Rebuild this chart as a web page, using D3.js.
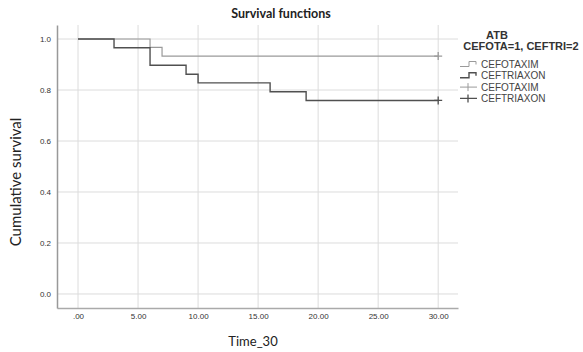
<!DOCTYPE html>
<html>
<head>
<meta charset="utf-8">
<script src="https://cdn.jsdelivr.net/npm/d3@7"></script>
<style>
  body { margin: 0; background: #fff; }
  svg { display: block; }
</style>
</head>
<body>
<svg id="chart" width="583" height="352"></svg>
<script>
// Kaplan-Meier steps
const cefotaximTimes = [0, 6, 7, 30];
const cefotaximSurv = [1.0, 0.967, 0.933, 0.933];
const ceftriaxonTimes = [0, 3, 6, 9, 10, 16, 19, 30];
const ceftriaxonSurv = [1.0, 0.966, 0.897, 0.862, 0.828, 0.793, 0.759, 0.759];
const censorTime = 30;

const xTicks = [0, 5, 10, 15, 20, 25, 30];
const yTicks = [0, 0.2, 0.4, 0.6, 0.8, 1.0];
const legendLabels = ["CEFOTAXIM", "CEFTRIAXON", "CEFOTAXIM", "CEFTRIAXON"];

const svg = d3.select("#chart");

const x = d3.scaleLinear().domain([-1.75, 31.65]).range([57, 458]);
const y = d3.scaleLinear().domain([-0.055, 1.055]).range([308, 25]);

const lightCol = "#9a9a9a";
const darkCol = "#505050";

// gridlines
svg.append("g").selectAll("line").data(xTicks).join("line")
  .attr("x1", d => x(d)).attr("x2", d => x(d))
  .attr("y1", y.range()[1]).attr("y2", y.range()[0])
  .attr("stroke", "#dcdcdc").attr("stroke-width", 1);
svg.append("g").selectAll("line").data(yTicks).join("line")
  .attr("x1", x.range()[0]).attr("x2", x.range()[1])
  .attr("y1", d => y(d)).attr("y2", d => y(d))
  .attr("stroke", "#dcdcdc").attr("stroke-width", 1);

// axes (no tick marks, just line + labels)
const xAxis = d3.axisBottom(x).tickValues(xTicks).tickSize(0).tickPadding(5)
  .tickFormat(d => d3.format(".2f")(d).replace(/^0/, ""));
const gx = svg.append("g").attr("transform", `translate(0,${y.range()[0]})`).call(xAxis);
gx.select(".domain").attr("stroke", "#aaa").attr("stroke-width", 1.5);

const yAxis = d3.axisLeft(y).tickValues(yTicks).tickSize(0).tickPadding(6)
  .tickFormat(d3.format(".1f"));
const gy = svg.append("g").attr("transform", `translate(${x.range()[0]},0)`).call(yAxis);
gy.select(".domain").attr("stroke", "#999").attr("stroke-width", 1.5);

svg.selectAll(".tick text")
  .attr("font-family", "Liberation Sans, Arial, sans-serif")
  .attr("font-size", 8).attr("fill", "#333");

// survival curves
const line = d3.line().x(d => x(d[0])).y(d => y(d[1])).curve(d3.curveStepAfter);
const series = [
  { t: cefotaximTimes, s: cefotaximSurv, col: lightCol, w: 1.2 },
  { t: ceftriaxonTimes, s: ceftriaxonSurv, col: darkCol, w: 1.4 }
];
series.forEach(sr => {
  const pts = sr.t.map((t, i) => [t, sr.s[i]]);
  svg.append("path").attr("d", line(pts))
    .attr("fill", "none").attr("stroke", sr.col).attr("stroke-width", sr.w);
  // censor mark
  const cy = y(sr.s[sr.s.length - 1]);
  const cx = x(censorTime);
  svg.append("path")
    .attr("d", `M${cx - 4},${cy}H${cx + 4}M${cx},${cy - 4}V${cy + 4}`)
    .attr("stroke", sr.col).attr("stroke-width", 1.3);
});

// title and axis labels
svg.append("text").attr("x", 281).attr("y", 18).attr("text-anchor", "middle")
  .attr("font-family", "Lato, Open Sans, sans-serif").attr("font-weight", "bold")
  .attr("font-size", 12.5).attr("fill", "#222").text("Survival functions");

svg.append("text").attr("x", 253).attr("y", 346).attr("text-anchor", "middle")
  .attr("font-family", "Lato, Open Sans, sans-serif")
  .attr("font-size", 13).attr("fill", "#222").text("Time_30");

svg.append("text").attr("transform", "translate(21,182) rotate(-90)")
  .attr("text-anchor", "middle")
  .attr("font-family", "Lato, Open Sans, sans-serif")
  .attr("font-size", 15).attr("fill", "#222").text("Cumulative survival");

// legend
const lg = svg.append("g").attr("font-family", "Liberation Sans, Arial, sans-serif");
lg.append("text").attr("x", 497).attr("y", 39).attr("text-anchor", "middle")
  .attr("font-size", 11).attr("font-weight", "bold").attr("fill", "#333").text("ATB");
lg.append("text").attr("x", 521).attr("y", 50).attr("text-anchor", "middle")
  .attr("font-size", 11).attr("font-weight", "bold").attr("fill", "#333").text("CEFOTA=1, CEFTRI=2");

const legendCols = [lightCol, darkCol, lightCol, darkCol];
legendLabels.forEach((lab, i) => {
  const ly = 64.5 + i * 11.3;
  const col = legendCols[i];
  if (i < 2) {
    lg.append("path")
      .attr("d", `M460,${ly + 2}H469V${ly - 3}H476V${ly}`)
      .attr("fill", "none").attr("stroke", col).attr("stroke-width", i === 1 ? 1.4 : 1);
  } else {
    lg.append("path")
      .attr("d", `M460,${ly}H477M468,${ly - 4}V${ly + 4}`)
      .attr("fill", "none").attr("stroke", col).attr("stroke-width", i === 3 ? 1.3 : 1);
  }
  lg.append("text").attr("x", 481).attr("y", ly + 3.5)
    .attr("font-family", "Liberation Sans Narrow, Liberation Sans, Arial, sans-serif")
    .attr("font-size", 10).attr("fill", "#444").text(lab);
});
</script>
</body>
</html>
